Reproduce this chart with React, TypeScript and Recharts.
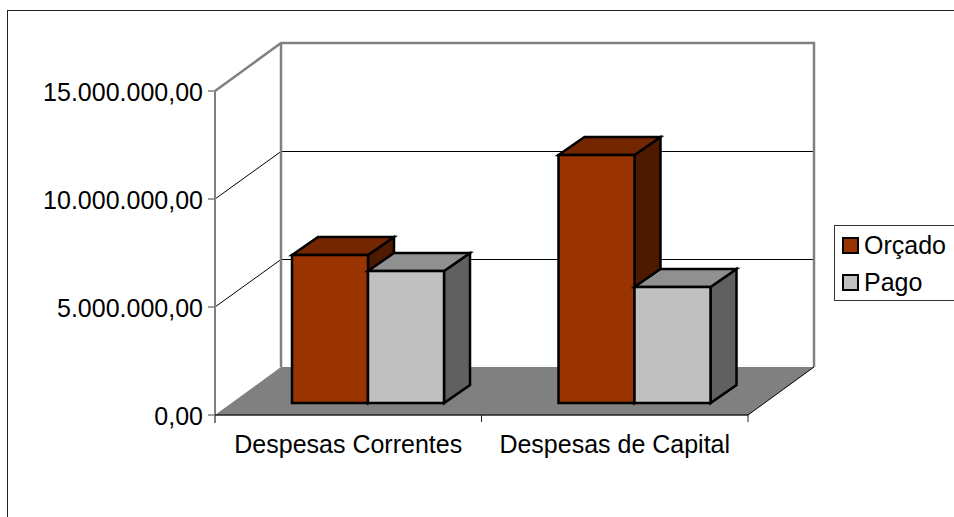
import { BarChart, Bar, XAxis, YAxis, Legend, usePlotArea } from 'recharts';

// ---------------------------------------------------------------------------
// Data
// ---------------------------------------------------------------------------

const categories = ['Despesas Correntes', 'Despesas de Capital'];
const orcado = [6850000, 11480000];
const pago = [6110000, 5370000];
const yTicks = [0, 5000000, 10000000, 15000000];

const chartData = categories.map((name, i) => ({ name, orcado: orcado[i], pago: pago[i] }));

// ---------------------------------------------------------------------------
// Constants for the fake 3D look
// ---------------------------------------------------------------------------

const FONT = '"Liberation Sans", Arial, sans-serif';
const FONT_SIZE = 25;
const WALL_DX = 66;
const WALL_DY = -48;
const BOX_DX = 26;
const BOX_DY = -18;
const BAR_SHIFT_X = 20;
const BAR_SHIFT_Y = -12;
const GREY = '#808080';

function formatY(val: number): string {
  return val.toLocaleString('pt-BR', { minimumFractionDigits: 2, maximumFractionDigits: 2 });
}

// ---------------------------------------------------------------------------
// Walls, floor and grid, drawn behind the bars
// ---------------------------------------------------------------------------

function Room() {
  const plot = usePlotArea();
  if (!plot) return null;
  const { x, y, width, height } = plot;
  const maxVal = yTicks[yTicks.length - 1];
  const yOf = (v: number) => y + height * (1 - v / maxVal);
  const bottom = y + height;
  const right = x + width;
  const boundaries = categories.map((_, i) => x + (width * (i + 1)) / categories.length);

  return (
    <g>
      <polygon
        points={`${x},${bottom} ${right},${bottom} ${right + WALL_DX},${bottom + WALL_DY} ${x + WALL_DX},${bottom + WALL_DY}`}
        fill={GREY}
      />
      {yTicks.slice(1, -1).map(v => (
        <polyline
          key={v}
          points={`${x},${yOf(v)} ${x + WALL_DX},${yOf(v) + WALL_DY + 0.5} ${right + WALL_DX},${yOf(v) + WALL_DY + 0.5}`}
          fill="none"
          stroke="#000"
          strokeWidth={1}
        />
      ))}
      <polyline
        points={`${x},${y} ${x + WALL_DX},${y + WALL_DY} ${right + WALL_DX},${y + WALL_DY} ${right + WALL_DX},${bottom + WALL_DY}`}
        fill="none"
        stroke={GREY}
        strokeWidth={2.5}
      />
      <line x1={x + WALL_DX} y1={y + WALL_DY} x2={x + WALL_DX} y2={bottom + WALL_DY} stroke={GREY} strokeWidth={2.5} />
      <line x1={x} y1={y} x2={x} y2={bottom + 8} stroke={GREY} strokeWidth={2} />
      <line x1={x} y1={bottom} x2={right} y2={bottom} stroke="#222" strokeWidth={1.5} />
      <line x1={right} y1={bottom} x2={right + WALL_DX} y2={bottom + WALL_DY} stroke="#000" strokeWidth={1} />
      {boundaries.map(bx => (
        <line key={bx} x1={bx} y1={bottom} x2={bx} y2={bottom + 7} stroke="#222" strokeWidth={1} />
      ))}
    </g>
  );
}

// ---------------------------------------------------------------------------
// 3D bar
// ---------------------------------------------------------------------------

function Box3D({ x, y, width, height, fill, topFill, sideFill }: any) {
  const left = x + BAR_SHIFT_X;
  const top = y + BAR_SHIFT_Y;
  const right = left + width;
  const bottom = top + height;
  return (
    <g stroke="#000" strokeWidth={2.5} strokeLinejoin="miter">
      <polygon
        points={`${right},${top} ${right + BOX_DX},${top + BOX_DY} ${right + BOX_DX},${bottom + BOX_DY} ${right},${bottom}`}
        fill={sideFill}
      />
      <polygon
        points={`${left},${top} ${left + BOX_DX},${top + BOX_DY} ${right + BOX_DX},${top + BOX_DY} ${right},${top}`}
        fill={topFill}
      />
      <rect x={left} y={top} width={width} height={height} fill={fill} />
    </g>
  );
}

// ---------------------------------------------------------------------------
// Legend
// ---------------------------------------------------------------------------

function LegendBox({ payload }: any) {
  return (
    <div
      style={{
        boxSizing: 'border-box',
        width: 130,
        height: 76,
        border: '1px solid #333',
        background: '#fff',
        paddingTop: 1,
      }}
    >
      {(payload ?? []).map((entry: any) => (
        <div key={entry.value} style={{ display: 'flex', alignItems: 'center', height: 37, paddingLeft: 7 }}>
          <span
            style={{
              boxSizing: 'border-box',
              width: 17,
              height: 17,
              border: '2.5px solid #000',
              background: entry.color,
              marginRight: 5,
            }}
          />
          <span style={{ fontFamily: FONT, fontSize: FONT_SIZE, color: '#000', lineHeight: '37px' }}>{entry.value}</span>
        </div>
      ))}
    </div>
  );
}

// ---------------------------------------------------------------------------
// Component
// ---------------------------------------------------------------------------

export default function App() {
  return (
    <div style={{ position: 'absolute', left: 0, top: 0, width: 954, height: 517, overflow: 'hidden', background: '#fff' }}>
      <div
        style={{
          position: 'absolute',
          left: 7,
          top: 10,
          width: 1000,
          height: 600,
          border: '1.5px solid #222',
        }}
      />
      <div style={{ position: 'absolute', left: 0, top: 0 }}>
        <BarChart
          width={954}
          height={517}
          data={chartData}
          margin={{ top: 91, right: 206, bottom: 0, left: 0 }}
          barSize={76}
          barGap={0}
        >
          <Room />
          <XAxis
            dataKey="name"
            height={102}
            axisLine={false}
            tickLine={false}
            interval={0}
            tick={{ fontSize: FONT_SIZE, fontFamily: FONT, fill: '#000' }}
            tickMargin={14}
          />
          <YAxis
            width={215}
            domain={[0, 15000000]}
            ticks={yTicks}
            tickFormatter={formatY}
            axisLine={false}
            tickLine={{ stroke: GREY, strokeWidth: 1.5 }}
            tickSize={7}
            tickMargin={5}
            interval={0}
            tick={{ fontSize: FONT_SIZE, fontFamily: FONT, fill: '#000', dy: 1 }}
          />
          <Legend
            content={<LegendBox />}
            layout="horizontal"
            verticalAlign="middle"
            wrapperStyle={{ left: 834, top: 225, width: 130 }}
          />
          <Bar
            dataKey="orcado"
            name="Orçado"
            fill="#993300"
            isAnimationActive={false}
            shape={(p: any) => <Box3D {...p} topFill="#732600" sideFill="#4d1a00" />}
          />
          <Bar
            dataKey="pago"
            name="Pago"
            fill="#C0C0C0"
            isAnimationActive={false}
            shape={(p: any) => <Box3D {...p} topFill="#909090" sideFill="#606060" />}
          />
        </BarChart>
      </div>
    </div>
  );
}
